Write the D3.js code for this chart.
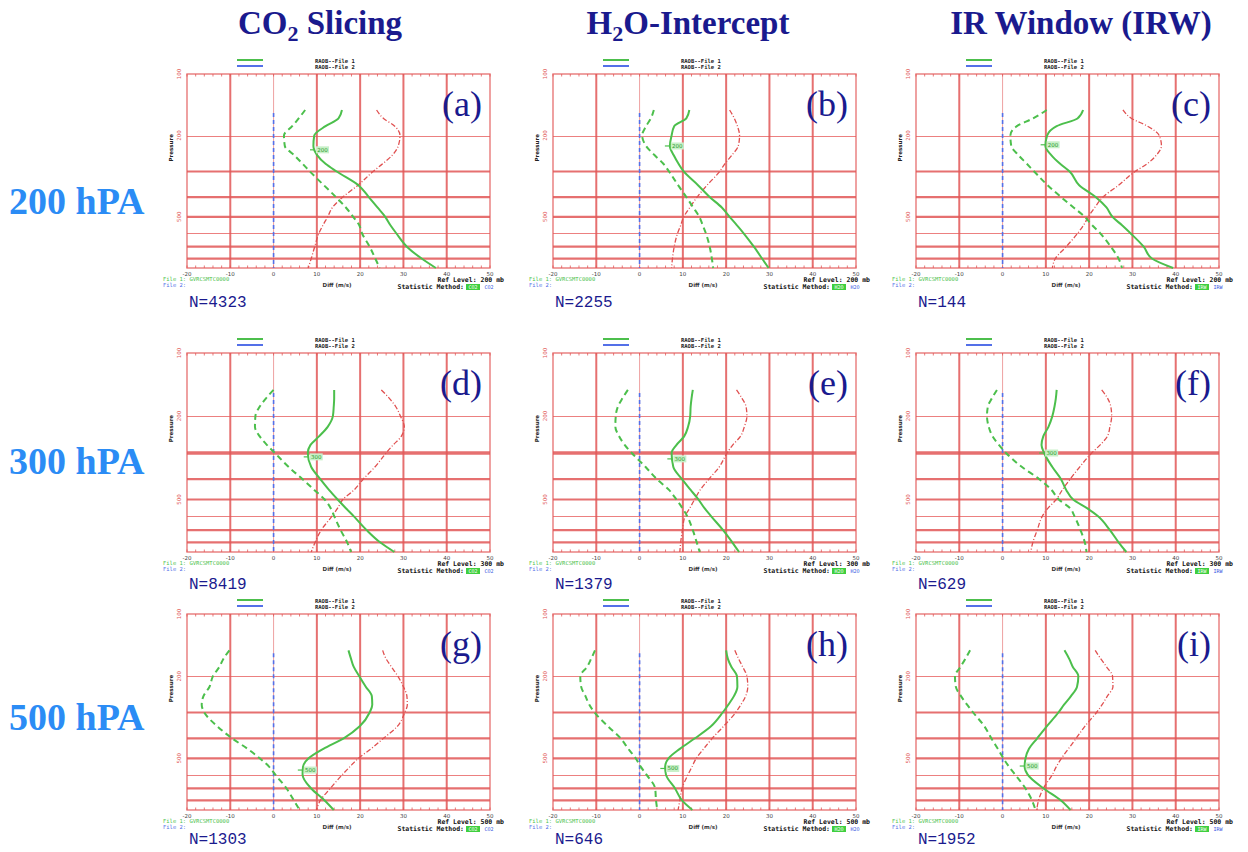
<!DOCTYPE html>
<html>
<head>
<meta charset="utf-8">
<script src="https://cdn.jsdelivr.net/npm/d3@7"></script>
<style>
  body { margin: 0; background: #fff; }
  svg { display: block; }
</style>
</head>
<body>
<script>
// column / row headings
var methodTitles = [['CO', '2', ' Slicing'], ['H', '2', 'O-Intercept'], ['IR Window (IRW)']];
var refLabels = ['200 hPA', '300 hPA', '500 hPA'];
var refLevels = [200, 300, 500];
var statCodes = ['CO2', 'H2O', 'IRW'];

// one entry per panel, row by row (a..i)
var panelLetters = ['a', 'b', 'c', 'd', 'e', 'f', 'g', 'h', 'i'];
var sampleSizes = [4323, 2255, 144, 8419, 1379, 629, 1303, 646, 1952];
var markerPressures = [235, 225, 222, 313, 320, 300, 570, 560, 545];

var xTicks = [-20, -10, 0, 10, 20, 30, 40, 50];
var yLabels = [100, 200, 500];
var gridThick = [300, 400, 500, 700, 800];
var gridThin = [200, 600];

// pressure levels (hPa) the profiles are read at
var levels = [150, 165, 180, 200, 225, 250, 275, 300, 350, 400, 450, 500, 550, 600, 700, 800, 890];

// green solid profile (m/s)
var greenSolid = [
  [15.8, 15.0, 12.0, 9.4, 9.2, 10.1, 12.0, 14.6, 19.6, 22.0, 24.0, 25.8, 27.0, 28.3, 30.8, 34.2, 37.5],
  [11.5, 10.8, 8.0, 7.4, 7.0, 7.9, 9.0, 10.2, 13.5, 16.2, 19.0, 20.8, 22.5, 24.0, 26.4, 28.3, 29.8],
  [18.6, 17.3, 12.5, 10.3, 9.9, 11.3, 13.3, 15.5, 17.7, 21.5, 24.0, 25.4, 27.6, 29.5, 32.6, 34.5, 39.4],
  [14.0, 14.0, 13.9, 13.7, 12.5, 10.5, 8.5, 7.9, 8.7, 10.8, 12.8, 14.8, 16.7, 18.5, 21.5, 24.6, 27.9],
  [12.3, 12.0, 11.8, 11.7, 11.2, 10.3, 8.5, 7.4, 7.8, 9.8, 11.8, 13.6, 15.0, 16.5, 19.3, 21.4, 23.0],
  [12.5, 12.3, 12.0, 11.5, 10.6, 9.4, 9.0, 9.6, 11.5, 13.5, 14.7, 16.3, 19.5, 22.0, 24.8, 26.8, 28.6],
  [17.3, 17.9, 18.5, 19.8, 21.3, 22.7, 22.8, 22.2, 19.9, 16.2, 11.5, 8.1, 6.8, 6.7, 8.7, 11.8, 13.9],
  [20.0, 20.4, 21.2, 22.5, 22.6, 21.8, 20.5, 19.2, 16.5, 12.8, 9.3, 6.7, 5.9, 6.1, 8.2, 9.8, 12.2],
  [14.3, 15.4, 16.2, 17.5, 17.2, 15.8, 14.2, 12.9, 10.2, 8.0, 6.1, 5.3, 5.1, 5.8, 9.5, 13.5, 15.7]
];

// green dashed profile (m/s)
var greenDashed = [
  [7.3, 5.8, 4.3, 2.4, 2.6, 4.8, 6.7, 8.4, 11.6, 14.4, 16.7, 18.4, 19.8, 20.4, 22.2, 23.5, 24.5],
  [3.3, 2.6, 1.5, 0.6, 1.5, 3.5, 5.5, 6.8, 8.9, 10.8, 12.4, 13.8, 14.6, 15.3, 16.2, 16.7, 17.0],
  [10.2, 7.0, 3.3, 1.8, 2.0, 3.7, 5.6, 7.3, 10.4, 13.5, 16.4, 19.0, 20.7, 22.5, 25.0, 26.8, 27.6],
  [0.0, -1.8, -3.2, -4.2, -4.3, -3.2, -1.5, 0.3, 3.5, 6.7, 9.4, 11.8, 13.2, 14.0, 15.5, 17.0, 17.9],
  [-2.7, -4.0, -5.0, -5.5, -5.6, -4.7, -3.4, -1.8, 1.4, 4.0, 6.8, 8.5, 9.9, 11.0, 12.3, 13.2, 13.9],
  [-1.3, -2.5, -3.4, -3.6, -3.2, -2.3, -0.8, 0.8, 4.5, 8.5, 11.3, 13.0, 15.6, 16.6, 18.0, 19.0, 19.4],
  [-10.2, -11.6, -12.5, -14.0, -14.8, -16.2, -16.6, -16.0, -13.0, -9.6, -6.0, -3.2, -1.0, 0.4, 3.0, 4.7, 6.0],
  [-10.3, -11.2, -12.1, -13.7, -13.5, -12.5, -11.6, -10.4, -7.3, -4.4, -2.6, -0.9, 0.3, 1.6, 3.6, 3.8, 4.1],
  [-7.5, -8.6, -9.7, -11.0, -10.8, -9.6, -8.2, -6.8, -4.2, -2.6, -1.1, 0.2, 1.5, 2.9, 5.3, 6.8, 7.6]
];

// red dash-dot profile (m/s)
var redDashDot = [
  [23.8, 25.4, 28.0, 29.2, 28.8, 27.4, 25.2, 23.0, 19.5, 16.0, 13.6, 12.5, 11.4, 10.5, 9.5, 8.7, 8.0],
  [20.8, 21.9, 22.6, 23.1, 22.8, 21.3, 19.7, 18.5, 15.6, 13.3, 11.6, 10.2, 9.5, 8.8, 8.0, 7.6, 7.4],
  [27.8, 29.8, 33.5, 36.2, 36.7, 35.5, 33.4, 30.6, 26.8, 23.2, 21.3, 19.8, 18.7, 17.4, 14.7, 12.2, 11.5],
  [24.9, 26.8, 28.2, 29.3, 30.2, 29.5, 27.6, 26.0, 23.4, 20.7, 18.6, 16.0, 14.8, 13.5, 11.0, 9.6, 8.7],
  [22.4, 23.7, 24.6, 24.8, 24.2, 23.3, 21.5, 20.2, 18.4, 16.0, 14.0, 12.7, 11.6, 10.5, 9.9, 9.5, 9.3],
  [22.9, 24.3, 25.0, 25.2, 24.8, 24.2, 22.5, 20.6, 17.8, 15.6, 13.8, 12.4, 10.5, 9.2, 8.0, 7.0, 6.5],
  [25.2, 26.0, 27.2, 28.7, 30.0, 30.8, 30.9, 30.3, 28.6, 25.4, 22.5, 19.6, 17.6, 15.9, 13.1, 10.8, 9.9],
  [22.0, 22.9, 23.8, 24.8, 25.0, 24.5, 23.4, 22.2, 19.4, 16.8, 14.8, 13.1, 12.1, 11.2, 9.8, 9.3, 8.9],
  [21.4, 22.7, 24.0, 25.4, 25.5, 24.2, 23.0, 21.7, 19.0, 17.0, 15.2, 13.6, 12.4, 11.5, 9.4, 8.3, 7.9]
];

var svg;
var colLeft = [187, 553, 916];
var rowTop = [74, 353, 614];
var rowHeight = [194, 199, 196];
var nOffset = [39, 37, 34];
var panelWidth = 303;
var gridRed = '#e25858';
var green = '#4cbf4c';
var blue = '#5470e8';
var navy = '#1a1a8e';

var createSvg = function() {
  svg = d3.select('body').append('svg')
    .attr('width', 1248)
    .attr('height', 852);
  svg.append('rect').attr('width', 1248).attr('height', 852).style('fill', '#fff');
};

var drawHeadings = function() {
  var titleX = [320, 688, 1081];
  methodTitles.forEach(function(parts, i) {
    var t = svg.append('text')
      .attr('x', titleX[i]).attr('y', 34)
      .attr('text-anchor', 'middle')
      .style('font-family', '"Liberation Serif", "Times New Roman", serif')
      .style('font-weight', 'bold')
      .style('font-size', '33px')
      .style('fill', navy);
    if (parts.length === 1) {
      t.text(parts[0]);
    } else {
      t.append('tspan').text(parts[0]);
      t.append('tspan').attr('dy', 7).style('font-size', '22px').text(parts[1]);
      t.append('tspan').attr('dy', -7).text(parts[2]);
    }
  });

  var labelY = [214, 474, 730];
  refLabels.forEach(function(label, i) {
    svg.append('text')
      .attr('x', 9).attr('y', labelY[i])
      .style('font-family', '"Liberation Serif", "Times New Roman", serif')
      .style('font-weight', 'bold')
      .style('font-size', '38px')
      .style('fill', '#2b8cf5')
      .text(label);
  });
};

var drawPanel = function(k) {
  var row = Math.floor(k / 3);
  var col = k % 3;
  var left = colLeft[col];
  var top = rowTop[row];
  var h = rowHeight[row];
  var right = left + panelWidth;
  var bottom = top + h;

  var x = d3.scaleLinear().domain([-20, 50]).range([left, right]);
  var y = d3.scaleLog().domain([100, 890]).range([top, bottom]);
  var g = svg.append('g');

  // horizontal grid
  gridThin.forEach(function(p) {
    var yy = Math.round(y(p)) + 0.5;
    g.append('line').attr('x1', left).attr('x2', right).attr('y1', yy).attr('y2', yy)
      .style('stroke', '#ec8080').style('stroke-width', 1.2);
  });
  gridThick.forEach(function(p) {
    var w = (row === 1 && p === 300) ? 3.4 : 2.2;
    g.append('line').attr('x1', left).attr('x2', right).attr('y1', y(p)).attr('y2', y(p))
      .style('stroke', gridRed).style('stroke-width', w).style('opacity', 0.85);
  });

  // vertical grid
  xTicks.slice(1, -1).forEach(function(v) {
    g.append('line').attr('x1', x(v)).attr('x2', x(v)).attr('y1', top).attr('y2', bottom)
      .style('stroke', gridRed)
      .style('stroke-width', v === 0 ? 1 : 2)
      .style('opacity', v === 0 ? 0.55 : 0.85);
  });

  // frame with small ticks
  g.append('rect').attr('x', left).attr('y', top).attr('width', panelWidth).attr('height', h)
    .style('fill', 'none').style('stroke', gridRed).style('stroke-width', 1.4).style('opacity', 0.8);
  d3.range(-20, 51, 2).forEach(function(v) {
    g.append('line').attr('x1', x(v)).attr('x2', x(v)).attr('y1', top).attr('y2', top + 2.5)
      .style('stroke', gridRed).style('stroke-width', 0.8);
    g.append('line').attr('x1', x(v)).attr('x2', x(v)).attr('y1', bottom - 2.5).attr('y2', bottom)
      .style('stroke', gridRed).style('stroke-width', 0.8);
  });

  // axis labels
  xTicks.forEach(function(v) {
    g.append('text').attr('x', x(v)).attr('y', bottom + 8)
      .attr('text-anchor', 'middle')
      .style('font-family', 'DejaVu Sans, sans-serif').style('font-size', '5.5px')
      .style('fill', '#444').text(v);
  });
  yLabels.forEach(function(p) {
    g.append('text')
      .attr('transform', 'translate(' + (left - 6) + ',' + y(p) + ') rotate(-90)')
      .attr('text-anchor', 'middle')
      .style('font-family', 'DejaVu Sans, sans-serif').style('font-size', '5.5px')
      .style('fill', gridRed).text(p);
  });
  g.append('text')
    .attr('transform', 'translate(' + (left - 14) + ',' + (top + h * 0.38) + ') rotate(-90)')
    .attr('text-anchor', 'middle')
    .style('font-family', 'DejaVu Sans, sans-serif').style('font-size', '5.5px')
    .style('font-weight', 'bold').style('fill', '#222').text('Pressure');
  g.append('text').attr('x', left + 150).attr('y', bottom + 19)
    .attr('text-anchor', 'middle')
    .style('font-family', 'DejaVu Sans, sans-serif').style('font-size', '5.5px')
    .style('font-weight', 'bold').style('fill', '#333').text('Diff (m/s)');

  // top legend
  g.append('line').attr('x1', left + 50).attr('x2', left + 76).attr('y1', top - 14).attr('y2', top - 14)
    .style('stroke', green).style('stroke-width', 2);
  g.append('line').attr('x1', left + 50).attr('x2', left + 76).attr('y1', top - 8).attr('y2', top - 8)
    .style('stroke', blue).style('stroke-width', 2);
  ['RAOB--File 1', 'RAOB--File 2'].forEach(function(s, i) {
    g.append('text').attr('x', left + 128).attr('y', top - 11.5 + i * 6)
      .style('font-family', 'DejaVu Sans Mono, monospace').style('font-size', '5.5px')
      .style('font-weight', 'bold').style('fill', '#222').text(s);
  });

  // bottom legend
  g.append('text').attr('x', left - 24).attr('y', bottom + 13)
    .style('font-family', 'DejaVu Sans Mono, monospace').style('font-size', '5.5px')
    .style('fill', green).text('File 1: GVRCSMTC0000');
  g.append('text').attr('x', left - 24).attr('y', bottom + 19)
    .style('font-family', 'DejaVu Sans Mono, monospace').style('font-size', '5.5px')
    .style('fill', blue).text('File 2:');
  g.append('text').attr('x', right + 14).attr('y', bottom + 14)
    .attr('text-anchor', 'end')
    .style('font-family', 'DejaVu Sans Mono, monospace').style('font-size', '6.5px')
    .style('font-weight', 'bold').style('fill', '#111').text('Ref Level: ' + refLevels[row] + ' mb');
  g.append('text').attr('x', right - 26).attr('y', bottom + 21)
    .attr('text-anchor', 'end')
    .style('font-family', 'DejaVu Sans Mono, monospace').style('font-size', '6.5px')
    .style('font-weight', 'bold').style('fill', '#111').text('Statistic Method:');
  g.append('rect').attr('x', right - 24).attr('y', bottom + 16).attr('width', 14).attr('height', 6)
    .style('fill', '#3fcf3f');
  g.append('text').attr('x', right - 17).attr('y', bottom + 21)
    .attr('text-anchor', 'middle')
    .style('font-family', 'DejaVu Sans Mono, monospace').style('font-size', '5px')
    .style('fill', '#fff').text(statCodes[col]);
  g.append('text').attr('x', right - 1).attr('y', bottom + 21)
    .attr('text-anchor', 'middle')
    .style('font-family', 'DejaVu Sans Mono, monospace').style('font-size', '5px')
    .style('fill', '#2f4fe0').text(statCodes[col]);

  // sample size
  g.append('text').attr('x', left + 2).attr('y', bottom + nOffset[row])
    .style('font-family', '"Liberation Mono", "Courier New", monospace').style('font-size', '16px')
    .style('fill', navy).text('N=' + sampleSizes[k]);

  // panel letter
  g.append('text').attr('x', right - 8).attr('y', top + 42)
    .attr('text-anchor', 'end')
    .style('font-family', '"Liberation Serif", "Times New Roman", serif').style('font-size', '36px')
    .style('fill', navy).text('(' + panelLetters[k] + ')');

  // zero reference
  g.append('line').attr('x1', x(0)).attr('x2', x(0)).attr('y1', y(155)).attr('y2', bottom)
    .style('stroke', blue).style('stroke-width', 1.6).style('stroke-dasharray', '4,3');

  var profile = function(values) {
    return d3.line()
      .x(function(d) { return x(d); })
      .y(function(d, i) { return y(levels[i]); })
      .curve(d3.curveMonotoneY)(values);
  };

  g.append('path').attr('d', profile(redDashDot[k]))
    .style('fill', 'none').style('stroke', '#e05050').style('stroke-width', 1.3)
    .style('stroke-dasharray', '5,2,1,2');
  g.append('path').attr('d', profile(greenDashed[k]))
    .style('fill', 'none').style('stroke', green).style('stroke-width', 2)
    .style('stroke-dasharray', '6,4');
  g.append('path').attr('d', profile(greenSolid[k]))
    .style('fill', 'none').style('stroke', green).style('stroke-width', 2);

  // reference level marker on the solid profile
  var mp = markerPressures[k];
  var mv = d3.scaleLog().domain(levels).range(greenSolid[k])(mp);
  var my = y(mp);
  g.append('line').attr('x1', x(mv) - 5).attr('x2', x(mv)).attr('y1', my).attr('y2', my)
    .style('stroke', green).style('stroke-width', 1.2);
  g.append('rect').attr('x', x(mv) + 1).attr('y', my - 3.5).attr('width', 13).attr('height', 7)
    .style('fill', '#c8f0c8');
  g.append('text').attr('x', x(mv) + 7.5).attr('y', my + 2)
    .attr('text-anchor', 'middle')
    .style('font-family', 'DejaVu Sans, sans-serif').style('font-size', '5.5px')
    .style('fill', '#2a9a2a').text(refLevels[row]);
};

createSvg();
drawHeadings();
for (var k = 0; k < 9; k++) {
  drawPanel(k);
}
</script>
</body>
</html>
